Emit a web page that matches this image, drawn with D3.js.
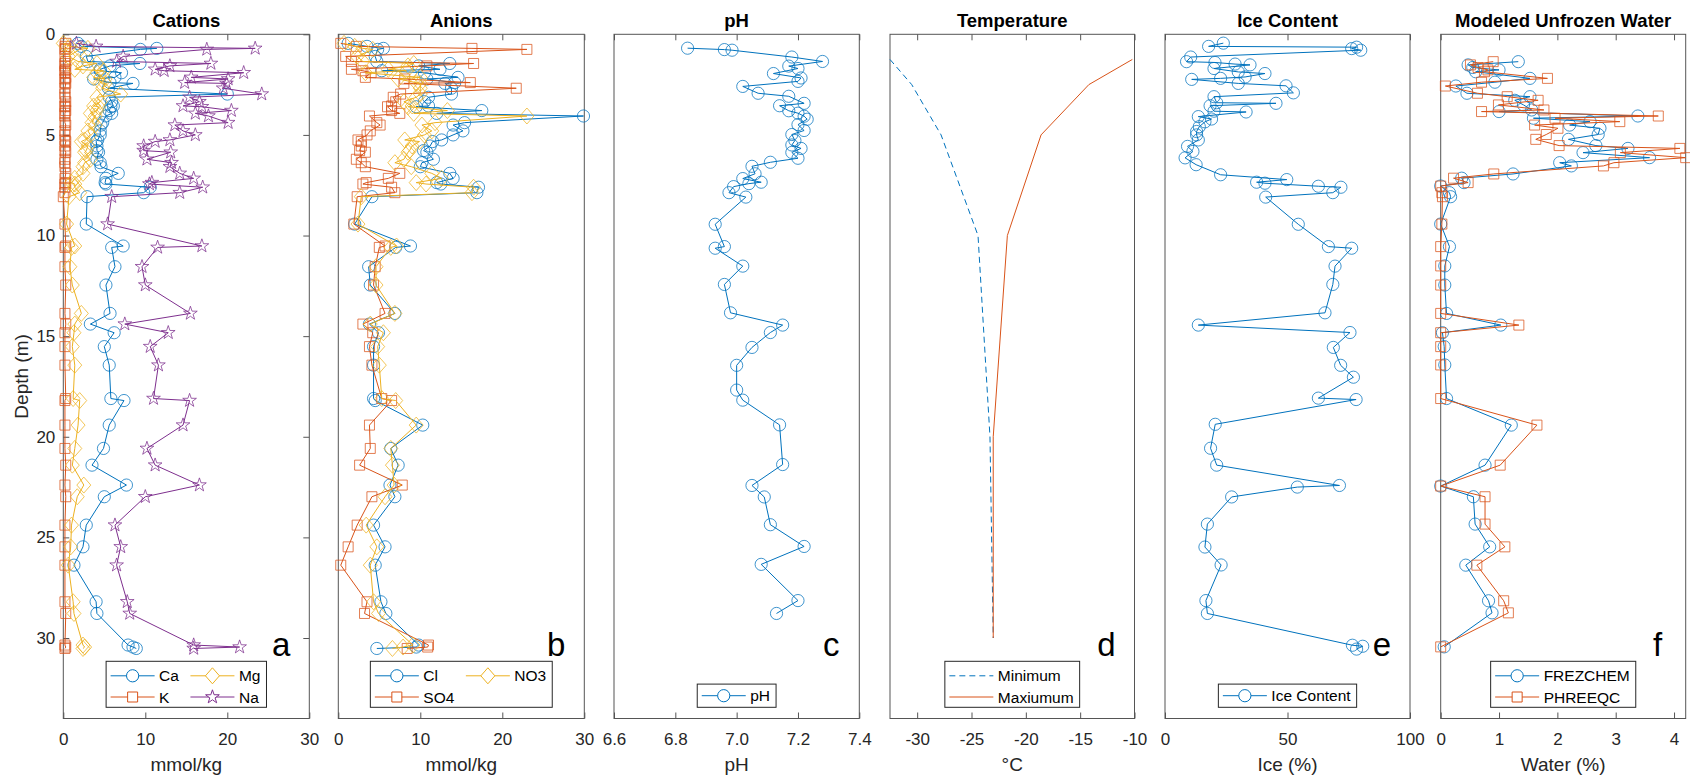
<!DOCTYPE html>
<html>
<head>
<meta charset="utf-8">
<script src="https://cdn.jsdelivr.net/npm/d3@7"></script>
<style>
body { margin: 0; background: #fff; }
text { font-family: "Liberation Sans", Arial, Helvetica, sans-serif; }
</style>
</head>
<body>
<div id="chart"></div>
<script>
// ---- data (depth in m) ----
const depthTicks = [0, 5, 10, 15, 20, 25, 30];

const depthIon = [0.45, 0.6, 0.7, 0.75, 1.1, 1.35, 1.45, 1.57, 1.74, 1.81, 1.91, 2.14, 2.22, 2.4, 2.44, 2.68, 2.97,
  3.13, 3.35, 3.56, 3.6, 3.79, 3.93, 4.06, 4.39, 4.51, 4.8, 5.0, 5.25, 5.33, 5.55, 5.78, 5.86, 6.21, 6.38, 6.58, 6.91,
  7.16, 7.37, 7.44, 7.6, 7.87, 8.07, 9.43, 10.52, 10.59, 11.55, 12.46, 13.87, 14.4, 14.83, 15.52, 16.44, 18.1, 18.2,
  19.42, 20.58, 21.41, 22.4, 22.98, 24.39, 25.47, 26.38, 28.2, 28.78, 30.35, 30.45, 30.52];

const ca = [1.8, 2.2, 11.4, 9.4, 2.8, 3.0, 9.35, 5.7, 4.5, 4.5, 7.1, 6.3, 3.7, 5.7, 8.5, 5.5, 20.0,
  5.6, 5.9, 6.1, 5.8, 5.6, 5.9, 5.2, 4.8, 4.6, 4.5, 4.5, 4.2, 4.0, 4.1, 4.1, 4.3, 4.1, 4.5, 4.6, 6.7,
  5.2, 5.1, 5.2, 10.6, 9.8, 2.9, 2.8, 7.3, 5.9, 6.3, 5.2, 5.7, 3.3, 6.2, 5.0, 5.6, 5.8, 7.4,
  5.6, 4.9, 3.5, 7.7, 5.0, 2.8, 2.4, 1.3, 4.0, 4.1, 7.9, 8.5, 8.9];
const k = [0.3, 0.2, 0.3, 0.2, 0.2, 0.3, 0.2, 0.2, 0.3, 0.2, 0.2, 0.3, 0.2, 0.2, 0.3, 0.2, 0.2,
  0.2, 0.3, 0.2, 0.2, 0.3, 0.2, 0.2, 0.2, 0.3, 0.2, 0.2, 0.2, 0.3, 0.2, 0.2, 0.3, 0.2, 0.2, 0.2, 0.3,
  0.2, 0.3, 0.2, 0.2, 0.2, 0.0, 0.2, 0.3, 0.2, 0.2, 0.3, 0.2, 0.3, 0.2, 0.2, 0.2, 0.3, 0.2,
  0.2, 0.2, 0.3, 0.2, 0.3, 0.2, 0.2, 0.2, 0.2, 0.3, 0.2, 0.3, 0.2];
const mg = [0.0, 0.8, 3.0, 2.0, 0.6, 1.8, 4.1, 2.4, 1.4, 4.9, 4.1, 3.7, 5.1, 4.5, 5.1, 4.8, 7.0,
  4.1, 4.5, 3.7, 4.3, 4.1, 3.3, 3.9, 3.5, 3.9, 3.0, 3.3, 2.6, 2.2, 3.0, 2.8, 2.6, 3.3, 2.6, 2.4, 2.4,
  1.4, 1.0, 1.4, 1.4, 2.0, 0.7, 0.4, 1.4, 1.0, 0.8, 1.1, 2.2, 1.4, 1.3, 1.1, 1.4, 1.2, 2.0,
  1.8, 1.4, 1.1, 2.5, 1.7, 1.0, 0.9, 0.6, 1.2, 1.3, 2.4, 2.6, 2.4];
const na = [1.6, 4.0, 23.4, 17.5, 7.3, 6.5, 18.0, 13.0, 11.2, 12.3, 22.0, 15.6, 20.1, 14.8, 19.9, 19.5, 24.2,
  15.4, 16.6, 14.6, 16.9, 20.5, 16.1, 17.7, 20.1, 13.6, 14.6, 16.1, 13.0, 11.2, 9.8, 9.8, 13.1, 10.2, 13.2, 13.0, 14.2,
  15.9, 10.8, 10.5, 17.0, 14.2, 5.9, 5.4, 16.9, 11.5, 9.6, 10.0, 15.5, 7.5, 12.8, 10.6, 11.6, 11.0, 15.4,
  14.6, 10.2, 11.2, 16.6, 10.0, 6.3, 7.0, 6.5, 7.8, 8.1, 15.9, 21.5, 15.9];

const cl = [1.2, 3.5, 5.5, 4.8, 4.5, 4.7, 13.6, 9.8, 12.4, 5.3, 10.5, 14.6, 10.8, 14.2, 13.0, 13.8, 13.8,
  11.0, 10.5, 11.0, 9.5, 17.5, 12.0, 29.9, 15.4, 14.0, 15.2, 14.0, 12.6, 11.5, 11.2, 10.4, 10.8, 11.6, 10.2, 10.0, 13.6,
  14.0, 12.0, 12.5, 17.1, 16.9, 4.1, 2.0, 8.8, 7.0, 3.7, 3.9, 6.9, 3.8, 4.9, 4.3, 4.3, 4.3, 4.5,
  10.3, 6.4, 7.3, 6.3, 6.9, 4.3, 5.7, 4.5, 5.2, 5.8, 9.8, 9.5, 4.7];
const so4 = [0.3, 2.2, 16.3, 23.0, 0.9, 1.6, 16.5, 10.8, 1.6, 3.0, 4.0, 3.3, 8.1, 16.1, 8.0, 21.7, 7.6,
  6.7, 7.0, 6.5, 6.0, 6.5, 7.5, 3.8, 4.7, 5.1, 3.9, 3.5, 2.4, 2.8, 2.8, 2.6, 3.3, 2.2, 2.8, 3.3, 7.5,
  6.1, 3.4, 3.0, 6.5, 6.9, 2.3, 1.9, 5.7, 5.0, 4.5, 4.3, 5.7, 3.0, 4.2, 3.8, 4.1, 5.3, 6.5,
  3.8, 3.9, 2.6, 7.8, 4.1, 2.3, 1.2, 0.3, 3.5, 3.2, 11.0, 10.9, 8.4];
const no3 = [0.7, 2.0, 3.0, 4.2, 2.3, 3.0, 9.2, 8.5, 6.1, 8.3, 3.3, 10.0, 7.3, 9.5, 10.0, 10.0, 10.0,
  9.5, 8.0, 9.0, 8.5, 13.3, 9.2, 23.0, 11.8, 10.2, 11.4, 10.5, 8.1, 9.9, 9.0, 8.7, 8.5, 8.0, 6.9, 8.9, 11.4,
  12.6, 9.5, 10.7, 16.5, 16.3, 2.8, 2.4, 7.1, 6.4, 4.6, 4.6, 6.9, 3.9, 5.5, 4.8, 5.0, 5.3, 7.0,
  9.5, 6.4, 6.6, 6.8, 5.7, 3.4, 4.7, 3.9, 4.3, 4.9, 9.1, 7.9, 6.6];

const depthPH = [0.69, 0.76, 0.79, 1.13, 1.35, 1.58, 1.70, 1.95, 2.17, 2.34, 2.59, 2.93, 3.08, 3.43, 3.55, 3.80,
  3.92, 4.07, 4.22, 4.49, 4.78, 4.98, 5.28, 5.50, 5.67, 5.87, 6.16, 6.36, 6.56, 6.93, 7.17, 7.35, 7.42, 7.57, 7.87,
  8.09, 9.44, 10.55, 10.63, 11.52, 12.43, 13.84, 14.45, 14.82, 15.56, 16.45, 17.68, 18.18, 19.41, 21.38, 22.42,
  22.99, 24.37, 25.45, 26.34, 28.14, 28.78];
const ph = [6.84, 6.96, 6.985, 7.18, 7.28, 7.17, 7.20, 7.12, 7.21, 7.20, 7.02, 7.07, 7.17, 7.22, 7.14, 7.17,
  7.20, 7.22, 7.23, 7.20, 7.22, 7.18, 7.19, 7.18, 7.21, 7.18, 7.20, 7.11, 7.05, 7.06, 7.02, 7.08, 7.04, 6.99, 6.975,
  7.03, 6.93, 6.96, 6.93, 7.02, 6.96, 6.98, 7.15, 7.11, 7.05, 7.0, 7.0, 7.02, 7.14, 7.15, 7.05,
  7.09, 7.11, 7.22, 7.08, 7.20, 7.13];

const depthT = [1.25, 2.5, 5, 10, 20, 30];
const tMin = [-32.5, -30.5, -27.8, -24.4, -23.3, -23.0];
const tMax = [-10.2, -14.2, -18.6, -21.7, -23.0, -23.0];

const depthIce = [0.44, 0.60, 0.64, 0.71, 0.79, 1.13, 1.36, 1.40, 1.48, 1.52, 1.70, 1.87, 1.95, 2.12, 2.19, 2.24,
  2.44, 2.56, 2.91, 3.10, 3.40, 3.43, 3.55, 3.82, 3.86, 4.09, 4.21, 4.35, 4.59, 4.83, 5.00, 5.25, 5.57, 5.82, 6.14,
  6.48, 6.98, 7.22, 7.35, 7.40, 7.55, 7.60, 7.87, 8.09, 9.44, 10.55, 10.63, 11.52, 12.43, 13.84, 14.45, 14.82,
  15.56, 16.45, 17.04, 18.08, 18.15, 19.38, 20.57, 21.41, 22.42, 22.50, 22.99, 24.34, 25.48, 26.37, 28.14, 28.78,
  30.36, 30.41, 30.55];
const ice = [23.8, 17.8, 78.2, 76.2, 79.9, 10.5, 8.8, 20.4, 28.6, 34.7, 20.0, 29.9, 40.8, 32.7, 22.7, 10.9,
  29.9, 49.4, 52.4, 20.0, 21.1, 45.3, 18.4, 20.0, 33.1, 13.6, 19.0, 16.3, 14.0, 12.9, 12.9, 13.6, 9.2, 11.4, 8.2,
  12.7, 22.7, 49.7, 37.4, 40.8, 62.6, 71.8, 68.5, 41.1, 54.4, 66.7, 76.2, 69.4, 68.5, 65.3, 13.6, 75.5,
  68.7, 71.7, 76.9, 62.6, 78.0, 20.5, 18.6, 21.1, 71.2, 54.0, 27.2, 17.3, 16.3, 22.9, 16.7, 17.3,
  76.5, 80.7, 78.2];

const depthW = [1.36, 1.52, 1.65, 1.77, 1.86, 2.19, 2.38, 2.57, 2.93, 3.10, 3.28, 3.51, 3.76, 3.84, 4.06, 4.17,
  4.34, 4.51, 4.67, 4.98, 5.22, 5.53, 5.67, 5.88, 6.13, 6.38, 6.54, 6.94, 7.15, 7.37, 7.54, 7.87, 8.07, 9.43,
  10.55, 11.51, 12.46, 13.87, 14.45, 14.83, 15.52, 16.43, 18.1, 19.42, 21.41, 22.45, 22.98, 24.34, 25.47, 26.38,
  28.15, 28.75, 30.44];
const frez = [1.33, 0.47, 0.55, 1.0, 0.60, 1.53, 0.93, 0.26, 0.45, 1.53, 1.27, 1.42, 1.56, 1.0, 3.38, 1.59,
  2.56, 2.21, 2.73, 2.7, 2.19, 2.66, 3.21, 2.44, 3.58, 2.04, 2.24, 1.24, 0.36, 0.4, 0.0, 0.15, 0.17, 0.0,
  0.15, 0.07, 0.07, 0.1, 1.03, 0.03, 0.06, 0.07, 0.1, 1.21, 0.76, 0.0, 0.56, 0.59, 0.84, 0.43,
  0.82, 0.88, 0.06];
const phre = [0.9, 0.51, 0.64, 0.81, 0.75, 1.83, 0.7, 0.08, 0.63, 1.14, 1.67, 0.99, 1.77, 0.7, 3.73, 1.96,
  3.07, 1.61, 2.01, 1.81, 1.63, 2.03, 4.1, 3.08, 4.2, 2.97, 2.79, 0.91, 0.22, 0.47, 0.0, 0.02, 0.03, 0.02,
  0.0, 0.0, 0.0, 0.0, 1.34, 0.0, 0.0, 0.0, 0.0, 1.65, 1.02, 0.0, 0.76, 0.76, 1.1, 0.62,
  1.08, 1.16, 0.0];

// ---- layout ----
const width = 1690, height = 778;
const plotTop = 34.3, plotBottom = 718.5;
const blue = "#0072BD", orange = "#D95319", yellow = "#EDB120", purple = "#7E2F8E";
const axisColor = "#555", textColor = "#262626";

const panels = [
  {letter: "a", title: "Cations", left: 63.3, right: 309.3, domain: [0, 30], ticks: [0, 10, 20, 30],
   fmt: d => d, label: "mmol/kg", yAxis: true, cols: 2,
   series: [
     {name: "Ca", depth: depthIon, values: ca, color: blue, marker: "circle"},
     {name: "K", depth: depthIon, values: k, color: orange, marker: "square"},
     {name: "Mg", depth: depthIon, values: mg, color: yellow, marker: "diamond"},
     {name: "Na", depth: depthIon, values: na, color: purple, marker: "star"}]},
  {letter: "b", title: "Anions", left: 338.3, right: 584.3, domain: [0, 30], ticks: [0, 10, 20, 30],
   fmt: d => d, label: "mmol/kg", cols: 2,
   series: [
     {name: "Cl", depth: depthIon, values: cl, color: blue, marker: "circle"},
     {name: "SO4", depth: depthIon, values: so4, color: orange, marker: "square"},
     {name: "NO3", depth: depthIon, values: no3, color: yellow, marker: "diamond"}]},
  {letter: "c", title: "pH", left: 614, right: 859.3, domain: [6.6, 7.4], ticks: [6.6, 6.8, 7.0, 7.2, 7.4],
   fmt: d => d.toFixed(1), label: "pH", cols: 1,
   series: [{name: "pH", depth: depthPH, values: ph, color: blue, marker: "circle"}]},
  {letter: "d", title: "Temperature", left: 890, right: 1134.5, domain: [-32.5, -10], ticks: [-30, -25, -20, -15, -10],
   fmt: d => String(d), label: "°C", cols: 1,
   series: [
     {name: "Minimum", depth: depthT, values: tMin, color: blue, marker: null, dash: "6,4"},
     {name: "Maxiumum", depth: depthT, values: tMax, color: orange, marker: null}]},
  {letter: "e", title: "Ice Content", left: 1165, right: 1410, domain: [0, 100], ticks: [0, 50, 100],
   fmt: d => d, label: "Ice (%)", cols: 1,
   series: [{name: "Ice Content", depth: depthIce, values: ice, color: blue, marker: "circle"}]},
  {letter: "f", title: "Modeled Unfrozen Water", left: 1440.7, right: 1685.7, domain: [0, 4.2], ticks: [0, 1, 2, 3, 4],
   fmt: d => d, label: "Water (%)", cols: 1,
   series: [
     {name: "FREZCHEM", depth: depthW, values: frez, color: blue, marker: "circle"},
     {name: "PHREEQC", depth: depthW, values: phre, color: orange, marker: "square"}]}
];

function markerPath(type) {
  if (type === "circle") return d3.symbol(d3.symbolCircle, Math.PI * 6.1 * 6.1)();
  if (type === "square") return "M-5,-5H5V5H-5Z";
  if (type === "diamond") return "M0,-8L7,0L0,8L-7,0Z";
  if (type === "star") {
    const pts = d3.range(10).map(i => {
      const r = i % 2 === 0 ? 7.2 : 2.8;
      const a = -Math.PI / 2 + i * Math.PI / 5;
      return [r * Math.cos(a), r * Math.sin(a)];
    });
    return "M" + pts.map(p => p.join(",")).join("L") + "Z";
  }
  return null;
}

const svg = d3.select("#chart").append("svg")
  .attr("width", width).attr("height", height)
  .attr("viewBox", [0, 0, width, height]);
svg.append("rect").attr("width", width).attr("height", height).attr("fill", "#fff");

const y = d3.scaleLinear().domain([0, 34]).range([plotTop, plotBottom]);

panels.forEach(p => {
  const x = d3.scaleLinear().domain(p.domain).range([p.left, p.right]);
  const g = svg.append("g");

  // bottom axis with labels, ticks pointing inward
  const xg = g.append("g")
    .attr("transform", `translate(0,${plotBottom})`)
    .call(d3.axisBottom(x).tickValues(p.ticks).tickSizeInner(-6).tickSizeOuter(0).tickPadding(14).tickFormat(p.fmt));
  // top mirror ticks
  const tg = g.append("g")
    .attr("transform", `translate(0,${plotTop})`)
    .call(d3.axisTop(x).tickValues(p.ticks).tickSizeInner(-6).tickSizeOuter(0).tickFormat(() => ""));
  [xg, tg].forEach(a => {
    a.select(".domain").remove();
    a.selectAll("line").attr("stroke", axisColor);
  });
  xg.attr("font-family", null).attr("font-size", null);
  xg.selectAll("text").attr("fill", textColor).style("font-size", "17px");

  if (p.yAxis) {
    const yg = g.append("g")
      .attr("transform", `translate(${p.left},0)`)
      .call(d3.axisLeft(y).tickValues(depthTicks).tickSizeInner(-6).tickSizeOuter(0).tickPadding(8));
    const yr = g.append("g")
      .attr("transform", `translate(${p.right},0)`)
      .call(d3.axisRight(y).tickValues(depthTicks).tickSizeInner(-6).tickSizeOuter(0).tickFormat(() => ""));
    [yg, yr].forEach(a => {
      a.select(".domain").remove();
      a.selectAll("line").attr("stroke", axisColor);
    });
    yg.attr("font-family", null).attr("font-size", null);
    yg.selectAll("text").attr("fill", textColor).style("font-size", "17px");

    svg.append("text")
      .attr("transform", `translate(27.5,${(plotTop + plotBottom) / 2}) rotate(-90)`)
      .attr("text-anchor", "middle")
      .attr("fill", textColor)
      .style("font-size", "19px")
      .text("Depth (m)");
  }

  // box
  g.append("rect")
    .attr("x", p.left).attr("y", plotTop)
    .attr("width", p.right - p.left).attr("height", plotBottom - plotTop)
    .attr("fill", "none").attr("stroke", axisColor).attr("stroke-width", 1);

  // series
  p.series.forEach(s => {
    const pts = d3.zip(s.depth, s.values);
    g.append("path")
      .datum(pts)
      .attr("fill", "none")
      .attr("stroke", s.color)
      .attr("stroke-width", 1)
      .attr("stroke-dasharray", s.dash || null)
      .attr("d", d3.line().x(d => x(d[1])).y(d => y(d[0])));
    if (s.marker) {
      g.append("g").selectAll("path")
        .data(pts)
        .join("path")
        .attr("transform", d => `translate(${x(d[1])},${y(d[0])})`)
        .attr("d", markerPath(s.marker))
        .attr("fill", "none")
        .attr("stroke", s.color)
        .attr("stroke-opacity", 0.75)
        .attr("stroke-width", 1);
    }
  });

  // title, x label, panel letter
  g.append("text")
    .attr("x", (p.left + p.right) / 2).attr("y", 27)
    .attr("text-anchor", "middle")
    .style("font-size", "18.5px").style("font-weight", "bold")
    .attr("fill", "#000")
    .text(p.title);
  g.append("text")
    .attr("x", (p.left + p.right) / 2).attr("y", 771)
    .attr("text-anchor", "middle")
    .style("font-size", "19px")
    .attr("fill", textColor)
    .text(p.label);
  g.append("text")
    .attr("x", p.right - 28).attr("y", 656)
    .attr("text-anchor", "middle")
    .style("font-size", "33px")
    .attr("fill", "#000")
    .text(p.letter);

  // legend
  const lg = g.append("g");
  const rows = Math.ceil(p.series.length / p.cols);
  const labels = p.series.map(s => lg.append("text").style("font-size", "15.5px").attr("fill", "#000").text(s.name));
  const widths = labels.map(t => t.node().getComputedTextLength());
  const colW = d3.range(p.cols).map(c => d3.max(p.series.map((s, i) => Math.floor(i / rows) === c ? widths[i] : 0)));
  const entryW = 4.5 + 44 + 4.5;
  const boxW = d3.sum(colW) + p.cols * entryW + (p.cols - 1) * 7 + 6;
  const boxH = rows === 1 ? 23.2 : 46;
  const bx = (p.left + p.right) / 2 - boxW / 2, by = 707.3 - boxH;
  lg.insert("rect", "text")
    .attr("x", bx).attr("y", by).attr("width", boxW).attr("height", boxH)
    .attr("fill", "#fff").attr("stroke", "#262626").attr("stroke-width", 1);
  p.series.forEach((s, i) => {
    const c = Math.floor(i / rows), r = i % rows;
    const cx = bx + d3.sum(colW.slice(0, c)) + c * (entryW + 7);
    const ry = rows === 1 ? by + boxH / 2 : by + 14.5 + r * 21.2;
    lg.append("line")
      .attr("x1", cx + 4.5).attr("x2", cx + 48.5).attr("y1", ry).attr("y2", ry)
      .attr("stroke", s.color).attr("stroke-width", 1)
      .attr("stroke-dasharray", s.dash || null);
    if (s.marker) {
      lg.append("path")
        .attr("transform", `translate(${cx + 26.5},${ry})`)
        .attr("d", markerPath(s.marker))
        .attr("fill", "#fff").attr("stroke", s.color).attr("stroke-width", 1);
    }
    labels[i].attr("x", cx + entryW).attr("y", ry + 5.5);
  });
});
</script>
</body>
</html>
